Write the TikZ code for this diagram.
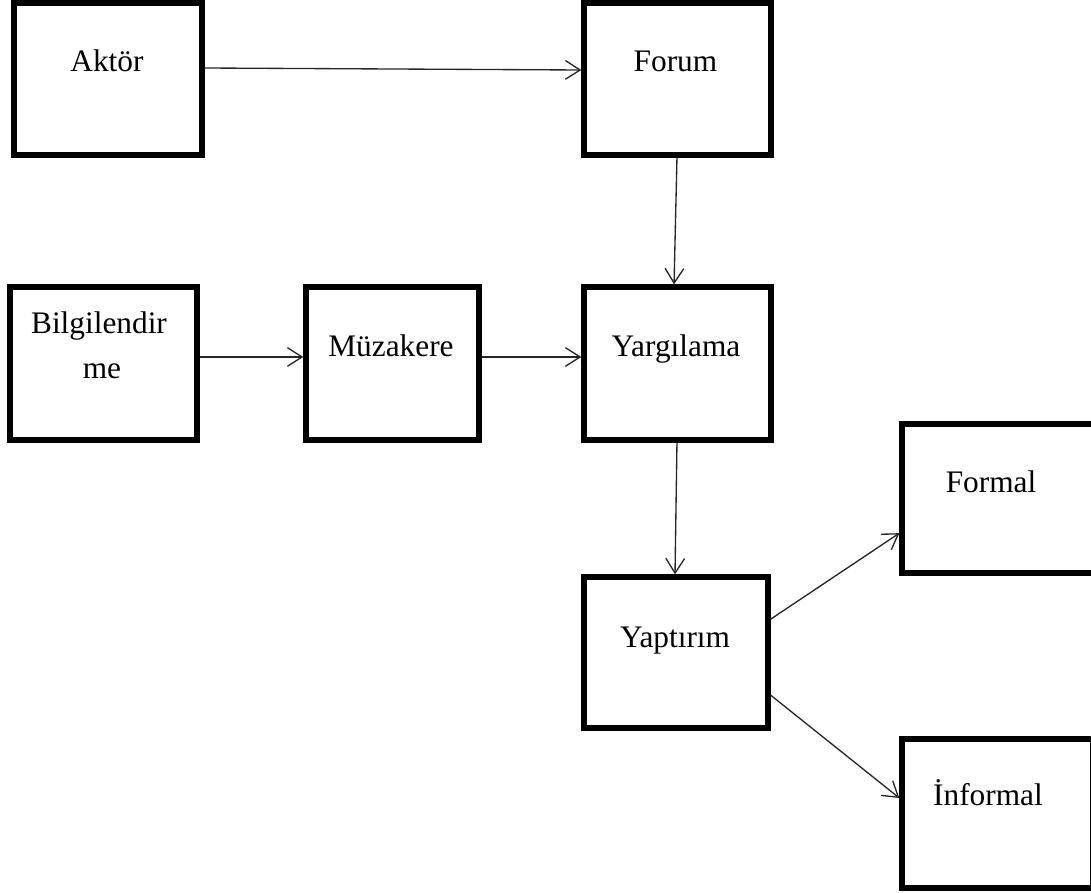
\documentclass[tikz,border=0pt]{standalone}
\usepackage{fontspec}
\setmainfont{Liberation Serif}
\usetikzlibrary{arrows.meta}
\begin{document}
\begin{tikzpicture}[x=0.75pt,y=-0.75pt,
  box/.style={draw=black,line width=4pt,inner sep=0pt,fill=white},
  lbl/.style={anchor=base,inner sep=0pt,font=\fontsize{23.5}{34}\selectfont},
  conn/.style={draw=black!85,line width=1pt,-{Straight Barb[length=11pt,width=14pt,line width=1pt]}}]
\useasboundingbox (0,0) rectangle (1091,892);
\clip (0,0) rectangle (1091,892);
% boxes
\node[box,minimum width=141pt,minimum height=114pt] (aktor) at (108,79) {};
\node[box,minimum width=140.25pt,minimum height=114pt] (forum) at (677.5,79) {};
\node[box,minimum width=140.25pt,minimum height=114.75pt] (bilg) at (103.5,363.5) {};
\node[box,minimum width=129.75pt,minimum height=114.75pt] (muz) at (392.5,363.5) {};
\node[box,minimum width=140.25pt,minimum height=114.75pt] (yarg) at (677.5,363.5) {};
\node[box,minimum width=138pt,minimum height=113.25pt] (yapt) at (676,652.5) {};
\node[box,minimum width=146.25pt,minimum height=111.75pt] (formal) at (999.5,498.5) {};
\node[box,minimum width=143.25pt,minimum height=111.75pt] (informal) at (997.5,813.5) {};
% labels
\node[lbl] (taktor) at (107,72) {Aktör};
\node[lbl] (tforum) at (675.5,72) {Forum};
\node[lbl] (tbilg1) at (99,333) {Bilgilendir};
\node[lbl] (tbilg2) at (102,378) {me};
\node[lbl] (tmuz) at (391,356) {Müzakere};
\node[lbl] (tyarg) at (676,356) {Yargılama};
\node[lbl] (tyapt) at (675,647) {Yaptırım};
\node[lbl] (tformal) at (991,492) {Formal};
\node[lbl] (tinformal) at (988,805) {İnformal};
% connectors
\draw[conn] ([yshift=8.25pt]aktor.east) -- ([yshift=6.75pt]forum.west);
\draw[conn] ([xshift=-0.4pt]forum.south) -- ([xshift=-2.6pt]yarg.north);
\draw[conn] ([yshift=4.9pt]bilg.east) -- ([yshift=4.9pt]muz.west);
\draw[conn] ([yshift=4.9pt]muz.east) -- ([yshift=4.9pt]yarg.west);
\draw[conn] ([xshift=-0.4pt]yarg.south) -- ([xshift=-0.75pt]yapt.north);
\draw[conn] ([yshift=25pt]yapt.east) -- ([yshift=-26pt]formal.west);
\draw[conn] ([yshift=-32pt]yapt.east) -- ([yshift=11.6pt]informal.west);
\end{tikzpicture}
\end{document}
